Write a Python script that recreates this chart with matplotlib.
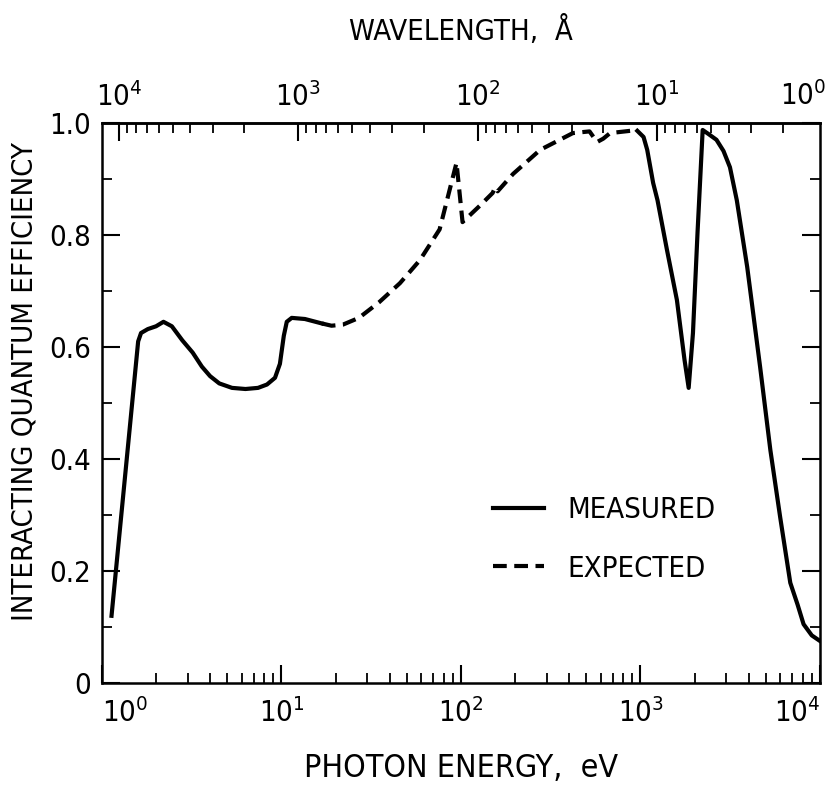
import matplotlib
matplotlib.use("Agg")
import matplotlib.pyplot as plt
from matplotlib.ticker import LogLocator, NullFormatter, FixedLocator, MultipleLocator

plt.rcParams['font.family'] = ['DejaVu Sans']
plt.rcParams['font.stretch'] = 'condensed'

# ---- data ----
meas_low_E = [1.13, 1.59, 1.65, 1.8, 2.0, 2.2, 2.45, 2.8, 3.2, 3.6, 4.0, 4.5,
              5.3, 6.3, 7.4, 8.3, 9.2, 9.8, 10.3, 10.7, 11.4, 13.5, 16.8]
meas_low_Q = [0.12, 0.61, 0.625, 0.632, 0.637, 0.645, 0.637, 0.612, 0.59, 0.565,
              0.548, 0.535, 0.527, 0.525, 0.527, 0.533, 0.545, 0.57, 0.62, 0.645,
              0.652, 0.650, 0.642]

exp_E = [16.8, 19, 22, 27, 35, 45.7, 59, 76, 94.4, 102, 128, 150, 155, 160,
         195, 276, 420, 520, 573, 620, 677, 875, 960]
exp_Q = [0.642, 0.638, 0.64, 0.652, 0.68, 0.714, 0.755, 0.81, 0.929, 0.823,
         0.853, 0.875, 0.885, 0.878, 0.909, 0.952, 0.982, 0.985, 0.966, 0.972,
         0.982, 0.986, 0.986]

meas_high_E = [960, 1040, 1090, 1176, 1244, 1405, 1595, 1759, 1855, 1960, 2078,
               2220, 2400, 2650, 2900, 3150, 3440, 3930, 4640, 5290, 6000, 6830,
               7500, 8100, 9000, 10000]
meas_high_Q = [0.986, 0.975, 0.952, 0.893, 0.862, 0.773, 0.684, 0.577, 0.527,
               0.625, 0.804, 0.9875, 0.98, 0.97, 0.95, 0.921, 0.862, 0.743, 0.564,
               0.416, 0.296, 0.179, 0.14, 0.105, 0.085, 0.075]

energy_ticks = [1, 10, 100, 1000, 10000]
energy_labels = [r'$\mathdefault{10^{0}}$', r'$\mathdefault{10^{1}}$',
                 r'$\mathdefault{10^{2}}$', r'$\mathdefault{10^{3}}$',
                 r'$\mathdefault{10^{4}}$']
wave_ticks = [1e4, 1e3, 1e2, 1e1]
wave_labels = [r'$\mathdefault{10^{4}}$', r'$\mathdefault{10^{3}}$',
               r'$\mathdefault{10^{2}}$', r'$\mathdefault{10^{1}}$']
wave_edge_label = r'$\mathdefault{10^{0}}$'
eff_ticks = [0, 0.2, 0.4, 0.6, 0.8, 1.0]
eff_labels = ['0', '0.2', '0.4', '0.6', '0.8', '1.0']

HC = 12398.0  # eV*Angstrom

fig = plt.figure(figsize=(8.28, 7.9), dpi=100)
ax = fig.add_axes([102/828, 1-683/790, (820-102)/828, (683-123)/790])

lw = 3.0
ax.plot(meas_low_E, meas_low_Q, color='black', lw=lw, label='MEASURED')
ln, = ax.plot(exp_E, exp_Q, color='black', lw=lw, linestyle='--',
              label='EXPECTED')
ln.set_dashes((3.3, 1.8))
ax.plot(meas_high_E, meas_high_Q, color='black', lw=lw)

ax.set_xscale('log')
ax.set_xlim(1, 1e4)
ax.set_ylim(0, 1.0)

FS = 21
ax.set_xticks(energy_ticks, energy_labels)
ax.xaxis.set_minor_locator(LogLocator(base=10, subs=range(2, 10), numticks=20))
ax.xaxis.set_minor_formatter(NullFormatter())
ax.set_yticks(eff_ticks, eff_labels)
ax.yaxis.set_minor_locator(MultipleLocator(0.1))

ax.tick_params(axis='both', which='major', direction='in', length=13, width=1.5,
               labelsize=FS, pad=8)
ax.tick_params(axis='both', which='minor', direction='in', length=7, width=1.3)
ax.tick_params(axis='y', which='both', right=True)
ax.tick_params(axis='x', which='major', pad=11)

xt = ax.get_xticklabels()
xt[0].set_ha('left')
xt[-1].set_ha('right')

for s in ax.spines.values():
    s.set_linewidth(1.8)

ax.set_xlabel('PHOTON ENERGY,  eV', fontsize=23, labelpad=18)
ax.set_ylabel('INTERACTING QUANTUM EFFICIENCY', fontsize=21)
ax.yaxis.set_label_coords(-0.088, 0.538)

sec = ax.secondary_xaxis('top', functions=(lambda e: HC / e, lambda l: HC / l))
sec.set_xticks(wave_ticks, wave_labels)
sec.xaxis.set_minor_locator(LogLocator(base=10, subs=range(2, 10), numticks=20))
sec.xaxis.set_minor_formatter(NullFormatter())
sec.tick_params(axis='x', which='major', direction='in', length=13, width=1.5,
                labelsize=FS, pad=8)
sec.tick_params(axis='x', which='minor', direction='in', length=7, width=1.3)
sec.spines['top'].set_linewidth(1.8)
sec.set_xlabel('WAVELENGTH,  Å', fontsize=21, labelpad=30)
# the 10^0 Angstrom label sits just past the right edge of the energy range
fig.text(826/828, 1-96/790, wave_edge_label, fontsize=FS,
         ha='right', va='center')

leg = ax.legend(loc='upper left', bbox_to_anchor=(0.545, 0.334), frameon=False,
                fontsize=21, handlelength=1.75, handletextpad=0.8,
                labelspacing=1.05, borderpad=0, borderaxespad=0)

fig.savefig('out.png', dpi=100)
